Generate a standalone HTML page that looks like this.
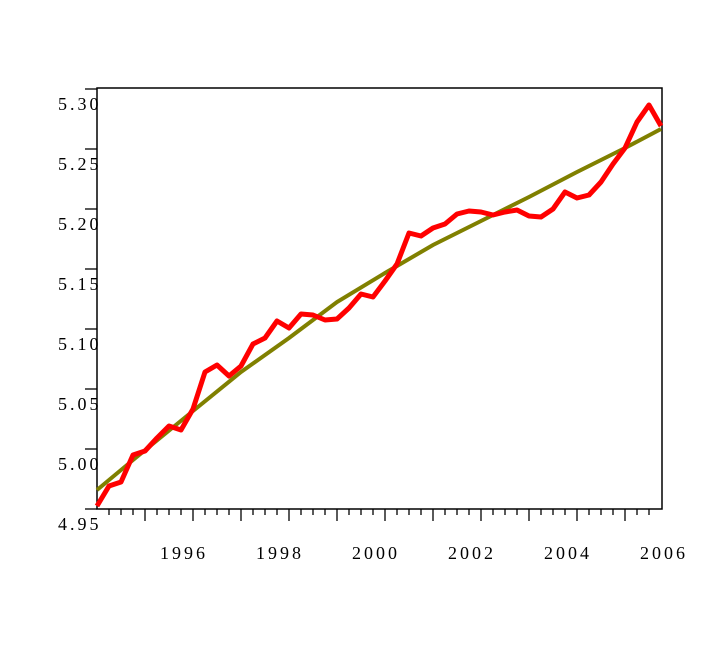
<!DOCTYPE html>
<html><head><style>body{margin:0;background:#fff}svg{display:block}text{font-family:"Liberation Serif",serif;font-size:18px;fill:#000;letter-spacing:3px}</style></head>
<body><svg width="726" height="650" viewBox="0 0 726 650">
<rect x="97" y="88" width="565" height="421" fill="none" stroke="#000" stroke-width="1.5"/>
<g stroke="#000" stroke-width="1.3">
<line x1="85" y1="89" x2="97" y2="89"/><line x1="85" y1="149" x2="97" y2="149"/><line x1="85" y1="209" x2="97" y2="209"/><line x1="85" y1="269" x2="97" y2="269"/><line x1="85" y1="329" x2="97" y2="329"/><line x1="85" y1="389" x2="97" y2="389"/><line x1="85" y1="449" x2="97" y2="449"/><line x1="85" y1="509" x2="97" y2="509"/>
</g>
<g stroke="#000" stroke-width="1.3" id="ticks"></g>
<g>
<text x="58" y="110">5.30</text><text x="58" y="170">5.25</text><text x="58" y="230">5.20</text><text x="58" y="290">5.15</text><text x="58" y="350">5.10</text><text x="58" y="410">5.05</text><text x="58" y="470">5.00</text><text x="58" y="530">4.95</text>
<text x="160" y="559">1996</text><text x="256" y="559">1998</text><text x="352" y="559">2000</text><text x="448" y="559">2002</text><text x="544" y="559">2004</text><text x="640" y="559">2006</text>
</g>
<polyline fill="none" stroke="#808000" stroke-width="4" points="97,490 133,460 193,411 241,372 289,338 337,302 385,273 433,245 481,221 529,197 577,172 625,148 661,129"/>
<polyline fill="none" stroke="#f00" stroke-width="5" stroke-linejoin="round" points="97,506 109,486 121,482 133,455 145,451 157,438 169,426 181,430 193,409 205,372 217,365 229,376 241,366 253,344 265,338 277,321 289,328 301,314 313,315 325,320 337,319 349,308 361,294 373,297 385,281 397,264 409,233 421,236 433,228 445,224 457,214 469,211 481,212 493,215 505,212 517,210 529,216 541,217 553,209 565,192 577,198 589,195 601,182 613,164 625,148 637,122 649,105 661,126"/>
<g stroke="#000" stroke-width="1.3">
<line x1="109" y1="509" x2="109" y2="515"/><line x1="121" y1="509" x2="121" y2="515"/><line x1="133" y1="509" x2="133" y2="515"/><line x1="145" y1="509" x2="145" y2="521"/><line x1="157" y1="509" x2="157" y2="515"/><line x1="169" y1="509" x2="169" y2="515"/><line x1="181" y1="509" x2="181" y2="515"/><line x1="193" y1="509" x2="193" y2="521"/><line x1="205" y1="509" x2="205" y2="515"/><line x1="217" y1="509" x2="217" y2="515"/><line x1="229" y1="509" x2="229" y2="515"/><line x1="241" y1="509" x2="241" y2="521"/><line x1="253" y1="509" x2="253" y2="515"/><line x1="265" y1="509" x2="265" y2="515"/><line x1="277" y1="509" x2="277" y2="515"/><line x1="289" y1="509" x2="289" y2="521"/><line x1="301" y1="509" x2="301" y2="515"/><line x1="313" y1="509" x2="313" y2="515"/><line x1="325" y1="509" x2="325" y2="515"/><line x1="337" y1="509" x2="337" y2="521"/><line x1="349" y1="509" x2="349" y2="515"/><line x1="361" y1="509" x2="361" y2="515"/><line x1="373" y1="509" x2="373" y2="515"/><line x1="385" y1="509" x2="385" y2="521"/><line x1="397" y1="509" x2="397" y2="515"/><line x1="409" y1="509" x2="409" y2="515"/><line x1="421" y1="509" x2="421" y2="515"/><line x1="433" y1="509" x2="433" y2="521"/><line x1="445" y1="509" x2="445" y2="515"/><line x1="457" y1="509" x2="457" y2="515"/><line x1="469" y1="509" x2="469" y2="515"/><line x1="481" y1="509" x2="481" y2="521"/><line x1="493" y1="509" x2="493" y2="515"/><line x1="505" y1="509" x2="505" y2="515"/><line x1="517" y1="509" x2="517" y2="515"/><line x1="529" y1="509" x2="529" y2="521"/><line x1="541" y1="509" x2="541" y2="515"/><line x1="553" y1="509" x2="553" y2="515"/><line x1="565" y1="509" x2="565" y2="515"/><line x1="577" y1="509" x2="577" y2="521"/><line x1="589" y1="509" x2="589" y2="515"/><line x1="601" y1="509" x2="601" y2="515"/><line x1="613" y1="509" x2="613" y2="515"/><line x1="625" y1="509" x2="625" y2="521"/><line x1="637" y1="509" x2="637" y2="515"/><line x1="649" y1="509" x2="649" y2="515"/>
</g>
</svg></body></html>
